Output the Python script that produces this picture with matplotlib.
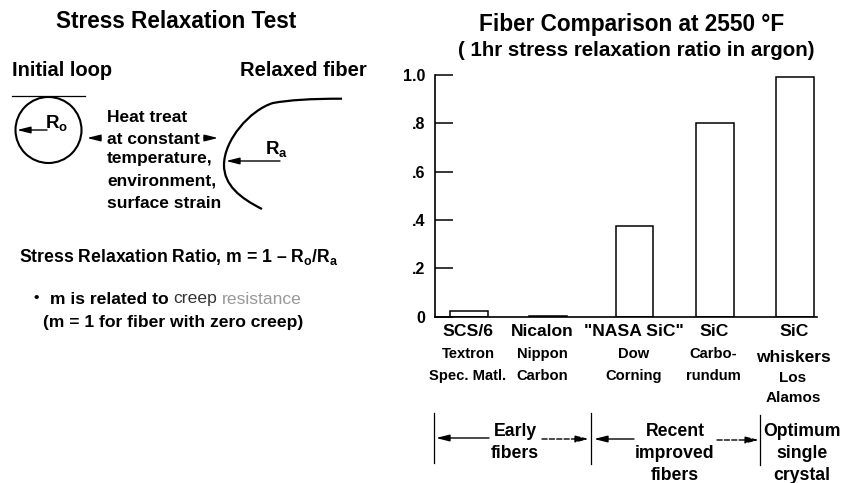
import matplotlib.pyplot as plt
from matplotlib.path import Path
from matplotlib.patches import PathPatch, Circle

plt.rcParams['font.family'] = ['Liberation Sans', 'DejaVu Sans']
plt.rcParams['font.weight'] = 'bold'
plt.rcParams['mathtext.fontset'] = 'custom'
plt.rcParams['mathtext.bf'] = 'Liberation Sans:bold'
plt.rcParams['mathtext.rm'] = 'Liberation Sans:bold'

fibers = ['SCS/6', 'Nicalon', '"NASA SiC"', 'SiC', 'SiC']
makers_1 = ['Textron', 'Nippon', 'Dow', 'Carbo-', 'whiskers']
makers_2 = ['Spec. Matl.', 'Carbon', 'Corning', 'rundum', 'Los']
ratios = [0.024, 0.004, 0.375, 0.80, 0.99]
y_ticks = [0, 0.2, 0.4, 0.6, 0.8, 1.0]
y_tick_labels = ['0', '.2', '.4', '.6', '.8', '1.0']

W, H = 844, 483
fig = plt.figure(figsize=(W / 100, H / 100), dpi=100)

# overlay in pixel coordinates for the schematic and the notes
ov = fig.add_axes([0, 0, 1, 1])
ov.set_xlim(0, W)
ov.set_ylim(H, 0)
ov.axis('off')

# bar chart
ax_left, ax_right, ax_top, ax_base = 435, 817, 75, 316.7
ax = fig.add_axes([ax_left / W, (H - ax_base) / H, (ax_right - ax_left) / W, (ax_base - ax_top) / H])
ax.patch.set_alpha(0)
bar_x = [468.9, 548, 634.5, 715, 795]
ax.bar(bar_x, ratios, width=37.5, facecolor='white', edgecolor='black', linewidth=1.1)
ax.set_xlim(ax_left, ax_right)
ax.set_ylim(0, 1.0)
ax.set_xticks([])
ax.set_yticks(y_ticks)
ax.set_yticklabels(y_tick_labels, fontsize=11.5, fontweight='bold')
ax.tick_params(axis='y', direction='in', length=13, width=1.1, pad=7)
ax.spines['top'].set_visible(False)
ax.spines['right'].set_visible(False)
ax.spines['left'].set_linewidth(1.2)
ax.spines['bottom'].set_linewidth(1.2)


def label(x, y, s, size=10, ha='left', color='black', weight='bold'):
    ov.text(x, y, s, fontsize=size, ha=ha, va='center', color=color, fontweight=weight)


def arrow(x0, y0, x1, y1, ls='-'):
    ov.annotate('', xy=(x1, y1), xytext=(x0, y0),
                arrowprops=dict(arrowstyle='-|>,head_length=0.8,head_width=0.2',
                                color='black', lw=1.0, ls=ls, shrinkA=0, shrinkB=0))


# titles
label(176, 21, 'Stress Relaxation Test', 16.3, 'center')
label(631.5, 25, 'Fiber Comparison at 2550 °F', 16.3, 'center')
label(636, 50, '( 1hr stress relaxation ratio in argon)', 14.8, 'center')

# fibre names under the bars
name_x = [468, 542, 634, 714, 794]
maker_x = [468, 542, 633.5, 713, 793]
for i in range(5):
    label(name_x[i], 332, fibers[i], 12.6, 'center')
    label(maker_x[i], 357 if i == 4 else 354, makers_1[i], 12.5 if i == 4 else 10.6, 'center')
    label(maker_x[i], 378 if i == 4 else 376, makers_2[i], 11 if i == 4 else 10.6, 'center')
label(793, 398, 'Alamos', 11, 'center')

# group brackets
for x, y0, y1 in [(434, 413, 463), (591, 413, 464), (760, 415, 465)]:
    ov.plot([x, x], [y0, y1], color='black', lw=0.9)
arrow(489, 438, 436, 438)
arrow(542, 439, 589, 439, ls='--')
arrow(634, 439, 594, 439)
arrow(717, 440, 759, 440, ls='--')
label(515, 432, 'Early', 12.7, 'center')
label(515, 454, 'fibers', 12.7, 'center')
label(675, 432, 'Recent', 12.7, 'center')
label(675, 454, 'improved', 12.7, 'center')
label(675, 476, 'fibers', 12.7, 'center')
label(802, 432, 'Optimum', 12.7, 'center')
label(802, 454, 'single', 12.7, 'center')
label(802, 476, 'crystal', 12.7, 'center')

# schematic: initial loop
label(12, 71, 'Initial loop', 14.5)
label(240, 71, 'Relaxed fiber', 14.5)
ov.plot([12, 85], [96, 96], color='black', lw=0.9)
ov.add_patch(Circle((48.5, 130), 33, fill=False, edgecolor='black', lw=1.5))
arrow(47, 130, 17, 130)
label(45, 124, r'R$_{\mathbf{o}}$', 13.5)
arrow(101, 138, 87, 138)
arrow(204, 138, 218, 138)

for y, s in zip([117, 139, 159, 181, 203],
                ['Heat treat', 'at constant', 'temperature,', 'environment,', 'surface strain']):
    label(107, y, s, 12.5)

# schematic: relaxed fiber
verts = [(342, 98.7), (310, 98.7), (290, 100), (273, 103),
         (250, 110), (224, 140), (224, 165),
         (224, 185), (240, 198), (262, 209)]
codes = [Path.MOVETO, Path.CURVE4, Path.CURVE4, Path.CURVE4,
         Path.CURVE4, Path.CURVE4, Path.CURVE4,
         Path.CURVE4, Path.CURVE4, Path.CURVE4]
ov.add_patch(PathPatch(Path(verts, codes), fill=False, edgecolor='black', lw=1.6))
arrow(280, 161, 226, 161)
label(265, 150, r'R$_{\mathbf{a}}$', 13.5)

# notes
label(19, 257, r'Stress Relaxation Ratio, m = 1 – R$_{\mathbf{o}}$/R$_{\mathbf{a}}$', 12.7)
label(33, 298, '•', 11)
label(50, 299, 'm is related to', 12.6)
label(173, 299, 'creep', 12.6, color='#333333', weight='normal')
label(222, 299, 'resistance', 12.6, color='#999999', weight='normal')
label(43, 322, '(m = 1 for fiber with zero creep)', 12.6)

fig.savefig('out.png', dpi=100)
plt.close()
